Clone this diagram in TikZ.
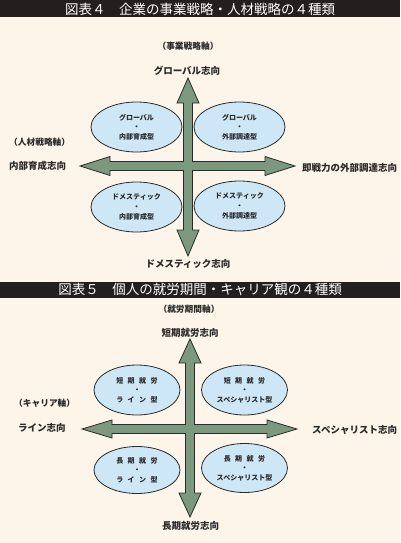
\documentclass[tikz,border=0pt]{standalone}
\usepackage{fontspec}
\newfontfamily\jp{Noto Sans CJK JP}
\usetikzlibrary{shapes.geometric}
\definecolor{bgcream}{HTML}{FDF5E9}
\definecolor{barblack}{HTML}{231F1E}
\definecolor{qblue}{HTML}{CDE7F6}
\definecolor{agreen}{HTML}{7B997F}
\definecolor{ink}{HTML}{2A2A2A}
\tikzset{
  lbl/.style={font=\jp\bfseries\fontsize{9.5}{10}\selectfont, text=ink, inner sep=0},
  axl/.style={font=\jp\bfseries\fontsize{8.7}{10}\selectfont, text=ink, inner sep=0},
  ttl/.style={font=\jp\fontsize{13.5}{14}\selectfont, text=white, inner sep=0},
  quad/.style={ellipse, draw=ink, line width=0.8pt, fill=qblue, minimum width=91pt,
    minimum height=50pt, inner sep=0, align=center, text=ink,
    font=\jp\bfseries\fontsize{7}{9.6}\selectfont},
  axisshape/.style={fill=agreen, draw=ink, line width=0.8pt, line join=miter},
  bar/.style={fill=barblack, draw=none}
}
\newcommand{\jsp}{\hspace{4.5pt}}
\begin{document}
\begin{tikzpicture}[x=1pt,y=-1pt]
\fill[bgcream] (0,0) rectangle (400,543);
\useasboundingbox (0,0) rectangle (400,543);
% ---------- Figure 4 ----------
\path[bar] (0,0.5) rectangle (400,17.5);
\node[ttl] (t4) at (200,9) {図表４　企業の事業戦略・人材戦略の４種類};
\draw[axisshape] (188,78) -- (199,103) -- (192.5,103) -- (192.5,161.5) -- (265,161.5)
  -- (265,156.5) -- (295,166) -- (265,175.5) -- (265,170.5) -- (192.5,170.5)
  -- (192.5,230) -- (199,230) -- (188,256) -- (177,230) -- (183.5,230) -- (183.5,170.5)
  -- (110,170.5) -- (110,175.5) -- (80,166) -- (110,156.5) -- (110,161.5)
  -- (183.5,161.5) -- (183.5,103) -- (177,103) -- cycle;
\node[axl] (a4v) at (188,46) {（事業戦略軸）};
\node[lbl] (n4t) at (187,71) {グローバル志向};
\node[lbl] (n4b) at (188,263.5) {ドメスティック志向};
\node[axl, anchor=west] (a4h) at (9,142) {（人材戦略軸）};
\node[lbl, anchor=west] (n4l) at (9,165.5) {内部育成志向};
\node[lbl, anchor=west] (n4r) at (302,168) {即戦力の外部調達志向};
\node[quad] (q4tl) at (136.5,127) {グローバル\\・\\内部育成型};
\node[quad] (q4tr) at (239.5,127) {グローバル\\・\\外部調達型};
\node[quad] (q4bl) at (136.5,207) {ドメスティック\\・\\内部育成型};
\node[quad] (q4br) at (239.5,206) {ドメスティック\\・\\外部調達型};
% ---------- Figure 5 ----------
\path[bar] (0,282) rectangle (400,297.5);
\node[ttl] (t5) at (200,289.5) {図表５　個人の就労期間・キャリア観の４種類};
\draw[axisshape] (190,339) -- (201,363) -- (194.5,363) -- (194.5,424.5) -- (267,424.5)
  -- (267,420) -- (297,429) -- (267,438) -- (267,433.5) -- (194.5,433.5)
  -- (194.5,493) -- (201,493) -- (190,517) -- (179,493) -- (185.5,493) -- (185.5,433.5)
  -- (112,433.5) -- (112,438) -- (82,429) -- (112,420) -- (112,424.5)
  -- (185.5,424.5) -- (185.5,363) -- (179,363) -- cycle;
\node[axl] (a5v) at (189,309) {（就労期間軸）};
\node[lbl] (n5t) at (190,333) {短期就労志向};
\node[lbl] (n5b) at (190.5,526) {長期就労志向};
\node[axl, anchor=west] (a5h) at (14,403) {（キャリア軸）};
\node[lbl, anchor=west] (n5l) at (18,428) {ライン志向};
\node[lbl, anchor=west] (n5r) at (312,430) {スペシャリスト志向};
\node[quad, minimum width=86pt] (q5tl) at (137,390) {短\jsp 期\jsp 就\jsp 労\\・\\ラ\jsp イ\jsp ン\jsp 型};
\node[quad, minimum width=86pt] (q5tr) at (244.5,390) {短\jsp 期\jsp 就\jsp 労\\・\\スペシャリスト型};
\node[quad, minimum width=86pt, minimum height=47pt] (q5bl) at (137,470) {長\jsp 期\jsp 就\jsp 労\\・\\ラ\jsp イ\jsp ン\jsp 型};
\node[quad, minimum width=86pt, minimum height=49pt] (q5br) at (244.5,468) {長\jsp 期\jsp 就\jsp 労\\・\\スペシャリスト型};
\end{tikzpicture}
\end{document}
